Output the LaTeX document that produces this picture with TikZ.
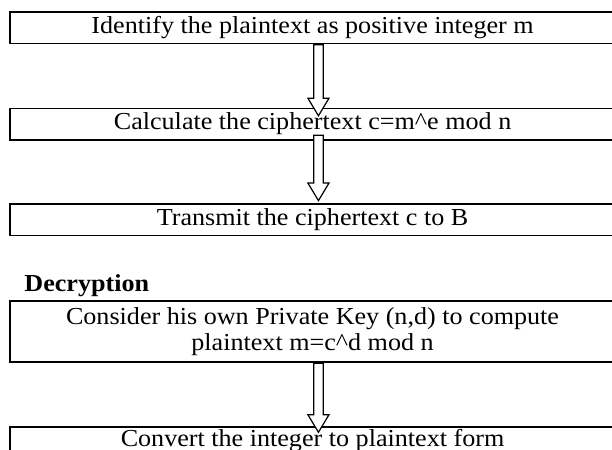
\documentclass[tikz,border=0pt]{standalone}
\usepackage{fontspec}
\setmainfont{Liberation Serif}[FakeStretch=1.07]
\usepackage{tikz}
\usetikzlibrary{calc,shapes,arrows,positioning}
\tikzset{
    paso/.style={rectangle,draw,line width=0.75pt,minimum width=302.5pt,minimum height=15.85pt,inner sep=0pt,align=center,node font=\fontsize{12.2}{13.2}\selectfont},
    pasodoble/.style={paso,minimum height=30.5pt},
    pasofinal/.style={paso,minimum height=20pt,text height=8.5pt,text depth=8.5pt},
    titulo/.style={node font=\fontsize{12.2}{13.2}\selectfont\bfseries,inner sep=0pt},
    flecha/.style={single arrow,draw,fill=white,line width=0.6pt,rotate=-90,anchor=tail,inner xsep=0pt,inner ysep=2.1pt,text height=0pt,text depth=0pt,single arrow head extend=2.9pt,single arrow tip angle=62},
}
\begin{document}
\begin{tikzpicture}
\useasboundingbox (0,0) rectangle (306pt,-225pt);
\clip (0,0) rectangle (306pt,-225pt);

\node[paso,anchor=north west] (p1) at (4.65pt,-5.5pt) {Identify the plaintext as positive integer m};
\node[paso,below=31.65pt of p1] (p2) {Calculate the ciphertext c=m\textasciicircum e mod n};
\node[paso,below=31.15pt of p2] (p3) {Transmit the ciphertext c to B};

\node[pasodoble,below=32pt of p3] (p4) {Consider his own Private Key (n,d) to compute\\plaintext m=c\textasciicircum d mod n};
\node[titulo,above right=4.35pt and 7.35pt of p4.north west,anchor=base west] (dec) {Decryption};
\node[pasofinal,below=31.65pt of p4] (p5) {Convert the integer to plaintext form};

\node[flecha,minimum height=35.5pt] (f1) at ($(p1.south)+(2.95pt,0)$) {};
\node[flecha,minimum height=32.65pt] (f2) at ($(p2.south)+(2.95pt,3pt)$) {};
\node[flecha,minimum height=34.5pt] (f3) at ($(p4.south)+(2.95pt,0)$) {};
\end{tikzpicture}
\end{document}
